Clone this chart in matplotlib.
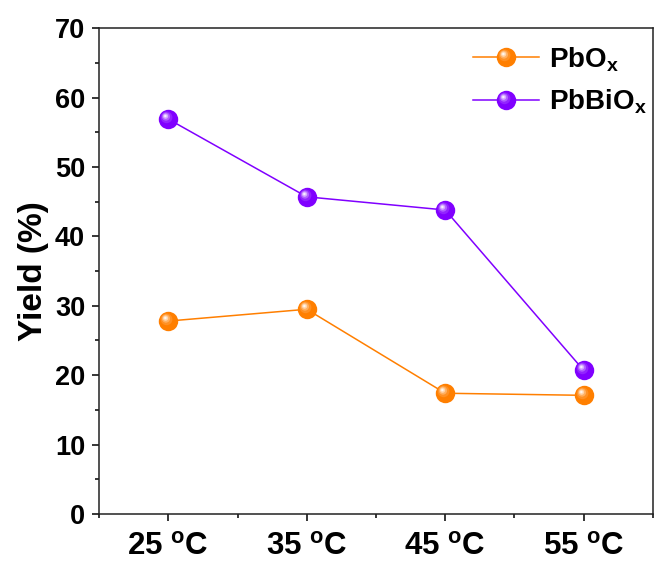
import matplotlib
matplotlib.use("Agg")
import matplotlib.pyplot as plt
import numpy as np
from matplotlib.path import Path
from matplotlib.markers import MarkerStyle
from matplotlib.legend_handler import HandlerTuple
from matplotlib.colors import to_rgb

plt.rcParams['font.family'] = ['Liberation Sans', 'DejaVu Sans']
plt.rcParams['font.weight'] = 'bold'
plt.rcParams['mathtext.fontset'] = 'custom'
plt.rcParams['mathtext.rm'] = 'Liberation Sans:bold'
plt.rcParams['mathtext.bf'] = 'Liberation Sans:bold'
plt.rcParams['mathtext.it'] = 'Liberation Sans:bold'

temperatures = ["25", "35", "45", "55"]
pbox = [27.8, 29.5, 17.4, 17.1]
pbbiox = [56.9, 45.7, 43.8, 20.7]
tick_labels = [t + r" $^{\mathregular{o}}$C" for t in temperatures]

series = [
    (r"PbO$_{\mathregular{x}}$", pbox, "#ff7f00"),
    (r"PbBiO$_{\mathregular{x}}$", pbbiox, "#8000ff"),
]


def glint(cx, cy, r):
    """Offset circle used as a highlight inside a round marker."""
    frame = Path([(-1, -1), (1, 1)], [Path.MOVETO, Path.MOVETO])
    circ = Path.circle(center=(cx, cy), radius=r)
    return MarkerStyle(Path.make_compound_path(frame, circ))


def mix(c, w):
    c = np.array(to_rgb(c))
    return tuple(c + (1 - c) * w)


layers = [(-0.2, 0.22, 0.6, 0.14), (-0.26, 0.3, 0.42, 0.38),
          (-0.3, 0.34, 0.27, 0.68), (-0.32, 0.36, 0.13, 0.93)]

fig = plt.figure(figsize=(6.54, 5.63), dpi=100)
ax = fig.add_axes([0.1514, 0.087, 0.847, 0.863])
x = np.arange(len(temperatures))
ms = 14

handles = []
for name, vals, col in series:
    base, = ax.plot(x, vals, '-', color=col, lw=1.1, marker='o', ms=ms,
                    mfc=col, mec=col, mew=0, zorder=3)
    parts = [base]
    for cx, cy, r, w in layers:
        h, = ax.plot(x, vals, ls='none', marker=glint(cx, cy, r), ms=ms,
                     mfc=mix(col, w), mew=0, zorder=4)
        parts.append(h)
    handles.append((tuple(parts), name))

ax.set_xlim(-0.5, 3.5)
ax.set_ylim(0, 70)
ax.set_xticks(x)
ax.set_xticklabels(tick_labels, fontsize=22.5, fontweight='bold')
ax.set_xticks(np.arange(-0.5, 3.6, 1.0), minor=True)
ax.set_yticks(np.arange(0, 71, 10))
ax.set_yticks(np.arange(5, 70, 10), minor=True)
ax.tick_params(axis='both', which='major', direction='out', length=5, width=1.1)
ax.tick_params(axis='x', which='major', labelsize=22.5, pad=8)
ax.tick_params(axis='y', which='major', labelsize=19.5, pad=5)
ax.tick_params(axis='both', which='minor', direction='out', length=3, width=1.1)
for lab in ax.get_yticklabels():
    lab.set_fontweight('bold')
for s in ax.spines.values():
    s.set_linewidth(1.1)
    s.set_color('#222222')
ax.set_ylabel("Yield (%)", fontsize=24, fontweight='bold', labelpad=4)

ax.legend([h for h, _ in handles], [n for _, n in handles],
          handler_map={tuple: HandlerTuple(ndivide=1, pad=0)},
          numpoints=1, loc='upper right', frameon=False, fontsize=20,
          handlelength=2.4, borderaxespad=0.0, labelspacing=0.5,
          handletextpad=0.35, bbox_to_anchor=(1.009, 0.988))

fig.savefig("out.png", dpi=100)
